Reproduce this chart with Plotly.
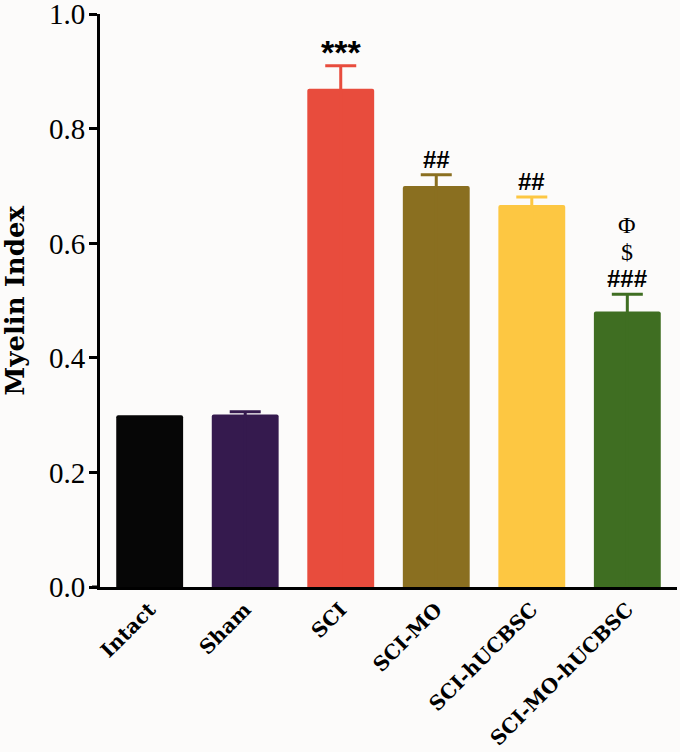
import plotly.graph_objects as go

categories = ["Intact", "Sham", "SCI", "SCI-MO", "SCI-hUCBSC", "SCI-MO-hUCBSC"]
values = [0.300, 0.301, 0.870, 0.700, 0.667, 0.481]
errors = [0.0, 0.005, 0.040, 0.020, 0.014, 0.030]
colors = ["#060606", "#351a4e", "#e84c3d", "#8a6f20", "#fdc742", "#3f6e22"]
sig_marks = ["", "", "***", "##", "##", "###"]
extra_marks = {"SCI-MO-hUCBSC": ["$", "Φ"]}
y_ticks = [0.0, 0.2, 0.4, 0.6, 0.8, 1.0]
y_ticklabels = ["0.0", "0.2", "0.4", "0.6", "0.8", "1.0"]

BG = "#fcfbfa"
SERIF = "Liberation Serif"
BOLD_SERIF = "DejaVu Serif"

fig = go.Figure()
for c, v, e, col in zip(categories, values, errors, colors):
    # upper-only error bar; the lower whisker runs down inside the bar to the
    # baseline, where its base cap is hidden beneath the x-axis line
    fig.add_trace(go.Bar(
        x=[c], y=[v],
        marker=dict(color=col, line=dict(width=0), cornerradius=2),
        width=0.70,
        error_y=dict(type="data", array=[e], arrayminus=[v], symmetric=False,
                     color=col, thickness=3, width=15.5, visible=e > 0),
        showlegend=False,
    ))

annotations = []
for c, v, e, m in zip(categories, values, errors, sig_marks):
    if not m:
        continue
    top = v + e
    is_star = m.startswith("*")
    annotations.append(dict(
        x=c, y=top, xref="x", yref="y", text=m, showarrow=False,
        yanchor="bottom", yshift=-6 if is_star else 1, borderpad=0,
        font=dict(family="Liberation Sans", size=34 if is_star else 24,
                  color="#000000", weight="bold"),
    ))
    for i, t in enumerate(extra_marks.get(c, [])):
        annotations.append(dict(
            x=c, y=top, xref="x", yref="y", text=t, showarrow=False,
            yanchor="bottom", yshift=28 + 27 * i, borderpad=0,
            font=dict(family=SERIF, size=24, color="#000000"),
        ))

annotations.append(dict(
    text="Myelin Index", xref="paper", yref="paper", x=0, y=0.5,
    xanchor="center", yanchor="middle", xshift=-86, textangle=-90,
    showarrow=False,
    font=dict(family=BOLD_SERIF, size=26, color="#000000", weight="bold"),
))

fig.update_layout(
    width=680, height=752,
    margin=dict(l=100, r=3, t=14, b=165),
    paper_bgcolor=BG, plot_bgcolor=BG,
    annotations=annotations,
    shapes=[dict(type="line", xref="paper", yref="y", xsizemode="pixel",
                 xanchor=0, x0=-8, x1=0, y0=0, y1=0,
                 line=dict(color="#000000", width=3))],
    xaxis=dict(
        type="category", range=[-0.52, 5.52], automargin=False,
        showline=True, linecolor="#000000", linewidth=3, layer="above traces",
        ticks="", tickangle=-45,
        tickfont=dict(family=BOLD_SERIF, size=20, color="#000000", weight="bold"),
        showgrid=False, zeroline=False,
    ),
    yaxis=dict(
        range=[0, 1.0005], tickvals=y_ticks, ticktext=y_ticklabels, automargin=False,
        showline=True, linecolor="#000000", linewidth=3,
        ticks="outside", ticklen=8, tickwidth=3, tickcolor="#000000",
        ticklabeloverflow="allow", ticklabelstandoff=-2,
        tickfont=dict(family=SERIF, size=29, color="#000000"),
        showgrid=False, zeroline=False,
    ),
)

fig.write_html(
    "out.html",
    config={"displayModeBar": False},
    post_script="document.body.style.margin='0px';document.body.style.background='#fcfbfa';",
)
